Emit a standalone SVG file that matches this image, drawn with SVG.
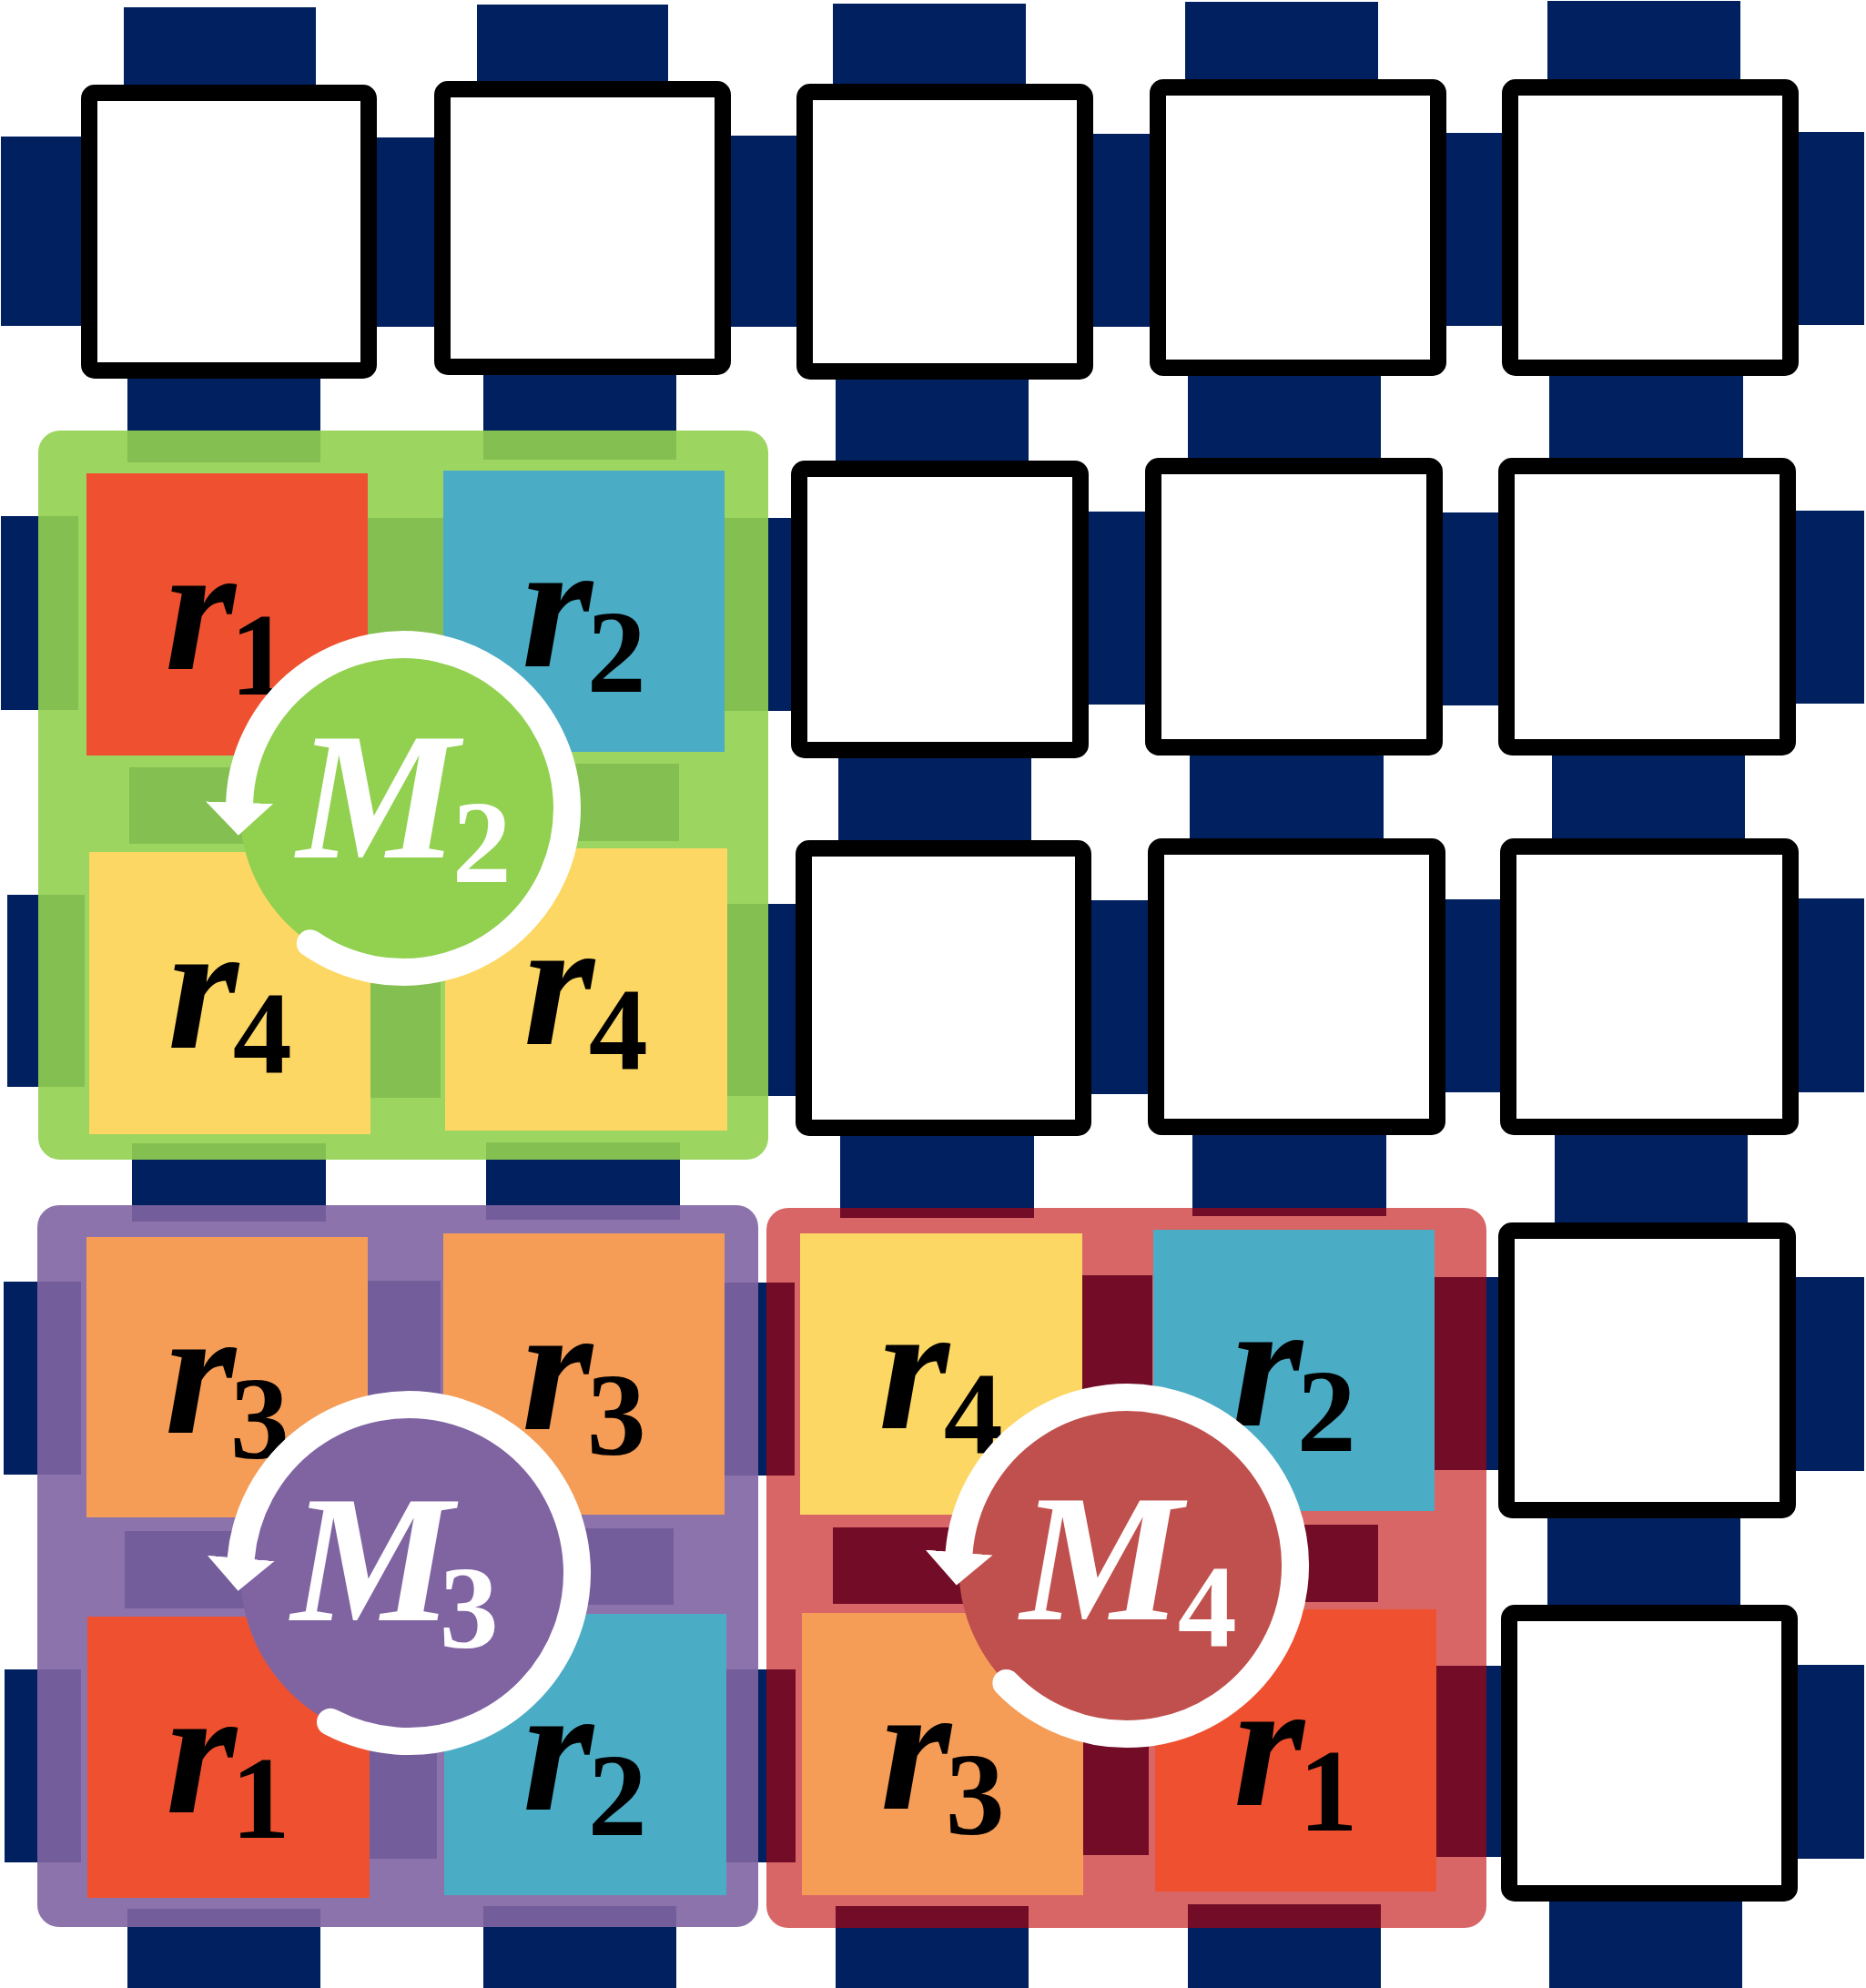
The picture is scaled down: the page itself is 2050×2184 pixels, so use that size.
<svg xmlns="http://www.w3.org/2000/svg" width="2050" height="2184" viewBox="0 0 2050 2184">
<style>
.bar{fill:#012060}
.box{fill:#fff;stroke:#000;stroke-width:18}
.grp-g{fill:#92D050;fill-opacity:0.9}
.grp-p{fill:#8064A2;fill-opacity:0.9}
.grp-r{fill:#C00000;fill-opacity:0.6}
.t1{fill:#EF5130}.t2{fill:#4BACC6}.t3{fill:#F59D57}.t4{fill:#FDD764}
.lbl{font-family:"Liberation Serif","Times New Roman",serif;font-style:italic;font-weight:bold;font-size:200px;fill:#000}
.sub{font-style:normal;font-weight:bold;font-size:130px}
.ml{fill:#fff}
.arc{fill:none;stroke:#fff;stroke-width:30;stroke-linecap:round;marker-end:url(#ah)}
</style>
<defs>
<marker id="ah" viewBox="0 -40 40 80" refX="0" refY="0" markerWidth="40" markerHeight="80" markerUnits="userSpaceOnUse" orient="auto">
<path d="M0,-37 L36,0 L0,37 Z" fill="#fff"/>
</marker>
</defs>
<rect width="2050" height="2184" fill="#fff"/>
<g id="links">
<rect class="bar" x="136" y="8" width="211" height="90"/>
<rect class="bar" x="524" y="5" width="210" height="90"/>
<rect class="bar" x="915" y="4" width="212" height="92"/>
<rect class="bar" x="1302" y="2" width="212" height="90"/>
<rect class="bar" x="1700" y="1" width="212" height="90"/>
<rect class="bar" x="1" y="150" width="95" height="208"/>
<rect class="bar" x="400" y="151" width="90" height="208"/>
<rect class="bar" x="795" y="149" width="90" height="210"/>
<rect class="bar" x="1190" y="147" width="85" height="212"/>
<rect class="bar" x="1580" y="146" width="75" height="212"/>
<rect class="bar" x="1965" y="145" width="83" height="212"/>
<rect class="bar" x="140" y="405" width="212" height="103"/>
<rect class="bar" x="531" y="405" width="212" height="100"/>
<rect class="bar" x="918" y="405" width="212" height="105"/>
<rect class="bar" x="1305" y="405" width="212" height="102"/>
<rect class="bar" x="1702" y="405" width="213" height="102"/>
<rect class="bar" x="1" y="567" width="85" height="213"/>
<rect class="bar" x="400" y="569" width="90" height="213"/>
<rect class="bar" x="790" y="569" width="90" height="212"/>
<rect class="bar" x="1190" y="562" width="76" height="212"/>
<rect class="bar" x="1578" y="563" width="76" height="212"/>
<rect class="bar" x="1965" y="561" width="83" height="212"/>
<rect class="bar" x="142" y="843" width="212" height="84"/>
<rect class="bar" x="535" y="839" width="211" height="85"/>
<rect class="bar" x="921" y="825" width="212" height="107"/>
<rect class="bar" x="1307" y="822" width="213" height="106"/>
<rect class="bar" x="1705" y="822" width="212" height="106"/>
<rect class="bar" x="8" y="983" width="85" height="211"/>
<rect class="bar" x="405" y="993" width="79" height="213"/>
<rect class="bar" x="790" y="993" width="94" height="211"/>
<rect class="bar" x="1190" y="989" width="78" height="213"/>
<rect class="bar" x="1580" y="988" width="75" height="212"/>
<rect class="bar" x="1968" y="987" width="80" height="213"/>
<rect class="bar" x="145" y="1256" width="213" height="86"/>
<rect class="bar" x="534" y="1255" width="213" height="85"/>
<rect class="bar" x="923" y="1240" width="213" height="98"/>
<rect class="bar" x="1310" y="1240" width="213" height="96"/>
<rect class="bar" x="1708" y="1240" width="212" height="110"/>
<rect class="bar" x="4" y="1408" width="85" height="212"/>
<rect class="bar" x="400" y="1407" width="84" height="213"/>
<rect class="bar" x="790" y="1409" width="83" height="212"/>
<rect class="bar" x="1188" y="1401" width="78" height="215"/>
<rect class="bar" x="1576" y="1403" width="79" height="212"/>
<rect class="bar" x="1966" y="1403" width="82" height="213"/>
<rect class="bar" x="137" y="1682" width="213" height="85"/>
<rect class="bar" x="528" y="1679" width="212" height="84"/>
<rect class="bar" x="915" y="1678" width="213" height="84"/>
<rect class="bar" x="1302" y="1675" width="212" height="85"/>
<rect class="bar" x="1700" y="1665" width="212" height="105"/>
<rect class="bar" x="5" y="1834" width="84" height="212"/>
<rect class="bar" x="404" y="1834" width="76" height="208"/>
<rect class="bar" x="790" y="1834" width="84" height="212"/>
<rect class="bar" x="1190" y="1828" width="72" height="210"/>
<rect class="bar" x="1577" y="1830" width="78" height="210"/>
<rect class="bar" x="1968" y="1829" width="80" height="213"/>
<rect class="bar" x="140" y="2097" width="212" height="87"/>
<rect class="bar" x="531" y="2094" width="212" height="90"/>
<rect class="bar" x="918" y="2094" width="212" height="90"/>
<rect class="bar" x="1305" y="2092" width="212" height="92"/>
<rect class="bar" x="1702" y="2085" width="212" height="99"/>
</g>
<g id="node-r1c1"><rect class="box" x="98" y="102" width="307" height="305" rx="6"/></g>
<g id="node-r1c2"><rect class="box" x="486" y="98" width="308" height="305" rx="6"/></g>
<g id="node-r1c3"><rect class="box" x="884" y="101" width="308" height="307" rx="6"/></g>
<g id="node-r1c4"><rect class="box" x="1272" y="96" width="308" height="308" rx="6"/></g>
<g id="node-r1c5"><rect class="box" x="1659" y="96" width="308" height="308" rx="6"/></g>
<g id="node-r2c3"><rect class="box" x="878" y="515" width="309" height="309" rx="6"/></g>
<g id="node-r2c4"><rect class="box" x="1267" y="512" width="309" height="309" rx="6"/></g>
<g id="node-r2c5"><rect class="box" x="1655" y="512" width="309" height="309" rx="6"/></g>
<g id="node-r3c3"><rect class="box" x="883" y="932" width="307" height="307" rx="6"/></g>
<g id="node-r3c4"><rect class="box" x="1270" y="930" width="309" height="308" rx="6"/></g>
<g id="node-r3c5"><rect class="box" x="1657" y="930" width="310" height="308" rx="6"/></g>
<g id="node-r4c5"><rect class="box" x="1655" y="1352" width="309" height="307" rx="6"/></g>
<g id="node-r5c5"><rect class="box" x="1658" y="1772" width="308" height="308" rx="6"/></g>

<g id="module-M2">
<rect class="grp-g" x="42" y="473" width="802" height="801" rx="24"/>
<g id="M2-tile-tl"><rect class="t1" x="95" y="520" width="309" height="310"/><text class="lbl" x="181" y="735">r<tspan class="sub" dx="-6" dy="28">1</tspan></text></g>
<g id="M2-tile-tr"><rect class="t2" x="487" y="517" width="309" height="309"/><text class="lbl" x="573" y="732">r<tspan class="sub" dx="-6" dy="28">2</tspan></text></g>
<g id="M2-tile-bl"><rect class="t4" x="98" y="936" width="309" height="310"/><text class="lbl" x="184" y="1151">r<tspan class="sub" dx="-6" dy="28">4</tspan></text></g>
<g id="M2-tile-br"><rect class="t4" x="489" y="932" width="310" height="310"/><text class="lbl" x="575" y="1147">r<tspan class="sub" dx="-6" dy="28">4</tspan></text></g>
<g id="M2-ctrl">
<circle cx="443" cy="888" r="180" fill="#92D050"/>
<path class="arc" d="M340.8,1036.2 A180,180 0 1 0 263.1,881.7"/>
<text class="lbl ml" x="326" y="942">M<tspan class="sub" dx="-7" dy="27">2</tspan></text>
</g>
</g>

<g id="module-M3">
<rect class="grp-p" x="41" y="1324" width="792" height="793" rx="24"/>
<g id="M3-tile-tl"><rect class="t3" x="95" y="1359" width="309" height="308"/><text class="lbl" x="181" y="1574">r<tspan class="sub" dx="-6" dy="28">3</tspan></text></g>
<g id="M3-tile-tr"><rect class="t3" x="487" y="1355" width="309" height="309"/><text class="lbl" x="573" y="1570">r<tspan class="sub" dx="-6" dy="28">3</tspan></text></g>
<g id="M3-tile-bl"><rect class="t1" x="96" y="1776" width="310" height="309"/><text class="lbl" x="182" y="1991">r<tspan class="sub" dx="-6" dy="28">1</tspan></text></g>
<g id="M3-tile-br"><rect class="t2" x="488" y="1773" width="310" height="309"/><text class="lbl" x="574" y="1988">r<tspan class="sub" dx="-6" dy="28">2</tspan></text></g>
<g id="M3-ctrl">
<circle cx="449" cy="1728" r="185" fill="#8064A2"/>
<path class="arc" d="M363.0,1891.8 A185,185 0 1 0 264.7,1711.9"/>
<text class="lbl ml" x="320" y="1780">M<tspan class="sub" dx="-15" dy="30">3</tspan></text>
</g>
</g>

<g id="module-M4">
<rect class="grp-r" x="842" y="1327" width="791" height="791" rx="24"/>
<g id="M4-tile-tl"><rect class="t4" x="879" y="1355" width="310" height="309"/><text class="lbl" x="965" y="1569">r<tspan class="sub" dx="-6" dy="28">4</tspan></text></g>
<g id="M4-tile-tr"><rect class="t2" x="1267" y="1351" width="309" height="309"/><text class="lbl" x="1353" y="1566">r<tspan class="sub" dx="-6" dy="28">2</tspan></text></g>
<g id="M4-tile-bl"><rect class="t3" x="881" y="1772" width="309" height="310"/><text class="lbl" x="967" y="1987">r<tspan class="sub" dx="-6" dy="28">3</tspan></text></g>
<g id="M4-tile-br"><rect class="t1" x="1269" y="1768" width="309" height="310"/><text class="lbl" x="1355" y="1983">r<tspan class="sub" dx="-6" dy="28">1</tspan></text></g>
<g id="M4-ctrl">
<circle cx="1238" cy="1720" r="185" fill="#C0504D"/>
<path class="arc" d="M1105.4,1849.0 A185,185 0 1 0 1053.6,1705.5"/>
<text class="lbl ml" x="1121" y="1779">M<tspan class="sub" dx="-5" dy="30">4</tspan></text>
</g>
</g>
</svg>
